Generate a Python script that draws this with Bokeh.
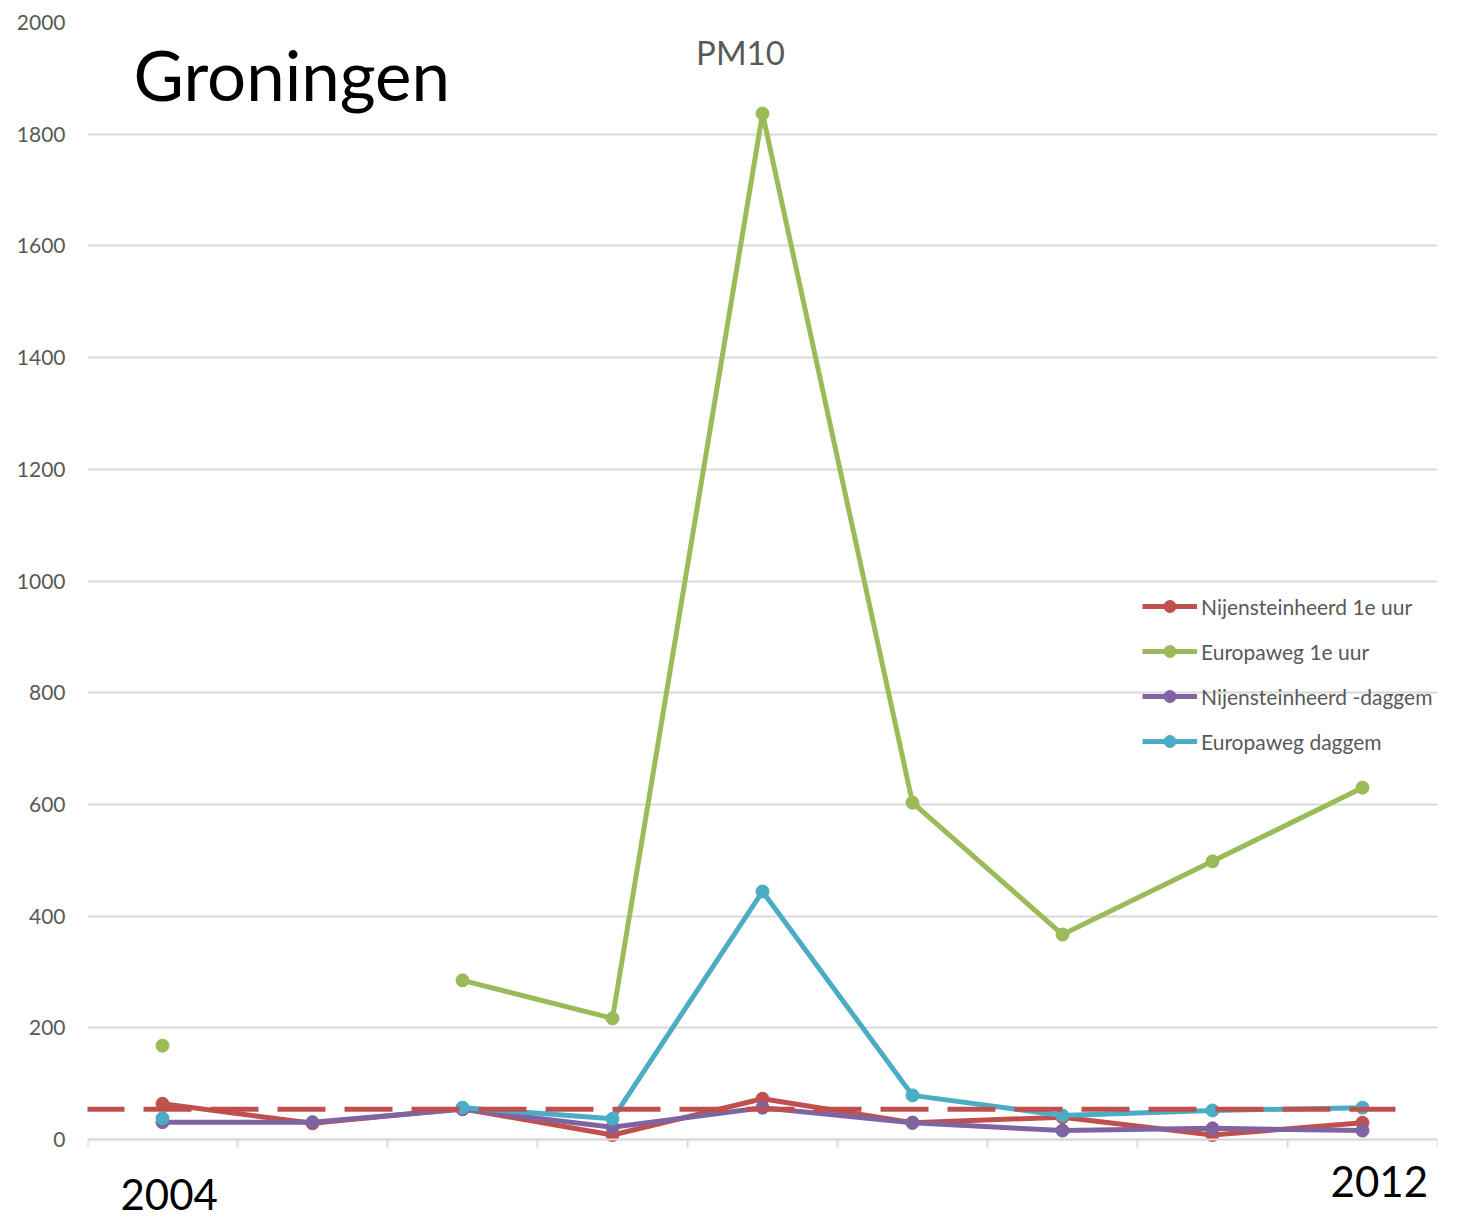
from bokeh.plotting import figure
from bokeh.models import (Range1d, FixedTicker, Label, Legend, LegendItem, Arrow,
                          ColumnDataSource)
from bokeh.embed import file_html
from bokeh.resources import INLINE

# ---- data ----
years = ["2004", "2005", "2006", "2007", "2008", "2009", "2010", "2011", "2012"]
nan = float("nan")
nijen_uur = [64, 29, 55, 8, 73, 30, 40, 8, 30]
europa_uur = [168, nan, 285, 217, 1837, 603, 367, 498, 630]
nijen_dag = [31, 31, 54, 22, 57, 30, 16, 20, 16]
europa_dag = [38, nan, 57, 37, 444, 79, 43, 52, 57]
limit_value = 54
y_ticks = [0, 200, 400, 600, 800, 1000, 1200, 1400, 1600, 1800, 2000]

series = [
    ("Nijensteinheerd 1e uur", nijen_uur, "#C0504D"),
    ("Europaweg 1e uur", europa_uur, "#9BBB59"),
    ("Nijensteinheerd -daggem", nijen_dag, "#8064A2"),
    ("Europaweg daggem", europa_dag, "#4BACC6"),
]

FONT = "Lato"
GRAY = "#595959"
GRID = "#d9d9d9"

# frame reaches the bottom of the canvas so that texts below the x axis stay visible
p = figure(width=1470, height=1218, output_backend="svg", toolbar_location=None,
           x_range=Range1d(0, len(years)), y_range=Range1d(-141.45, 2000))
p.min_border_left = 87
p.min_border_right = 33
p.min_border_top = 22
p.min_border_bottom = 0
p.outline_line_color = None
p.background_fill_color = "white"
p.border_fill_color = "white"

# axes
x_ticks = list(range(len(years) + 1))
p.xaxis.fixed_location = 0
p.xaxis.ticker = FixedTicker(ticks=x_ticks)
p.xaxis.major_label_overrides = {t: "" for t in x_ticks}
p.xaxis.axis_line_color = GRID
p.xaxis.axis_line_width = 2
p.xaxis.major_tick_line_color = GRID
p.xaxis.major_tick_line_width = 2
p.xaxis.major_tick_out = 8
p.xaxis.major_tick_in = 0
p.xaxis.minor_tick_line_color = None

p.yaxis.ticker = FixedTicker(ticks=y_ticks)
p.yaxis.axis_line_color = None
p.yaxis.major_tick_line_color = None
p.yaxis.minor_tick_line_color = None
p.yaxis.major_label_text_font = FONT
p.yaxis.major_label_text_font_size = "21px"
p.yaxis.major_label_text_color = GRAY
p.yaxis.major_label_standoff = 16

p.xgrid.grid_line_color = None
p.ygrid.grid_line_color = GRID
p.ygrid.grid_line_width = 2

xs = [i + 0.5 for i in range(len(years))]

items = []
for name, vals, color in series:
    src = ColumnDataSource(dict(x=xs, y=vals))
    ln = p.line("x", "y", source=src, line_color=color, line_width=5)
    sc = p.scatter("x", "y", source=src, size=13, fill_color=color, line_color=color)
    items.append(LegendItem(label=name, renderers=[ln, sc]))

legend = Legend(items=items, location=(1055, 383 + 79), orientation="vertical",
                glyph_width=55, glyph_height=30, label_height=22, spacing=15,
                padding=0, margin=0, border_line_color=None, background_fill_alpha=0,
                label_text_font=FONT, label_text_font_size="21px",
                label_text_color=GRAY, label_standoff=4)
p.add_layout(legend)

# dashed limit line
p.add_layout(Arrow(end=None, x_start=-0.52, y_start=limit_value, x_end=8.72, y_end=limit_value,
                   line_color="#C0504D", line_width=5, line_dash="48 19"))

# texts
p.add_layout(Label(x=0.307, y=1907, text="Groningen", text_font=FONT,
                   text_font_size="69px", text_color="black", text_baseline="alphabetic"))
p.add_layout(Label(x=4.353, y=1948, text="PM10", text_font=FONT, text_align="center",
                   text_font_size="33px", text_color=GRAY, text_baseline="alphabetic"))
p.add_layout(Label(x=0.22, y=-98.5, text=years[0], text_font=FONT,
                   text_font_size="42px", text_color="black", text_baseline="alphabetic"))
p.add_layout(Label(x=8.287, y=-75.2, text=years[-1], text_font=FONT,
                   text_font_size="42px", text_color="black", text_baseline="alphabetic"))

open("out.html", "w").write(file_html(p, INLINE))
